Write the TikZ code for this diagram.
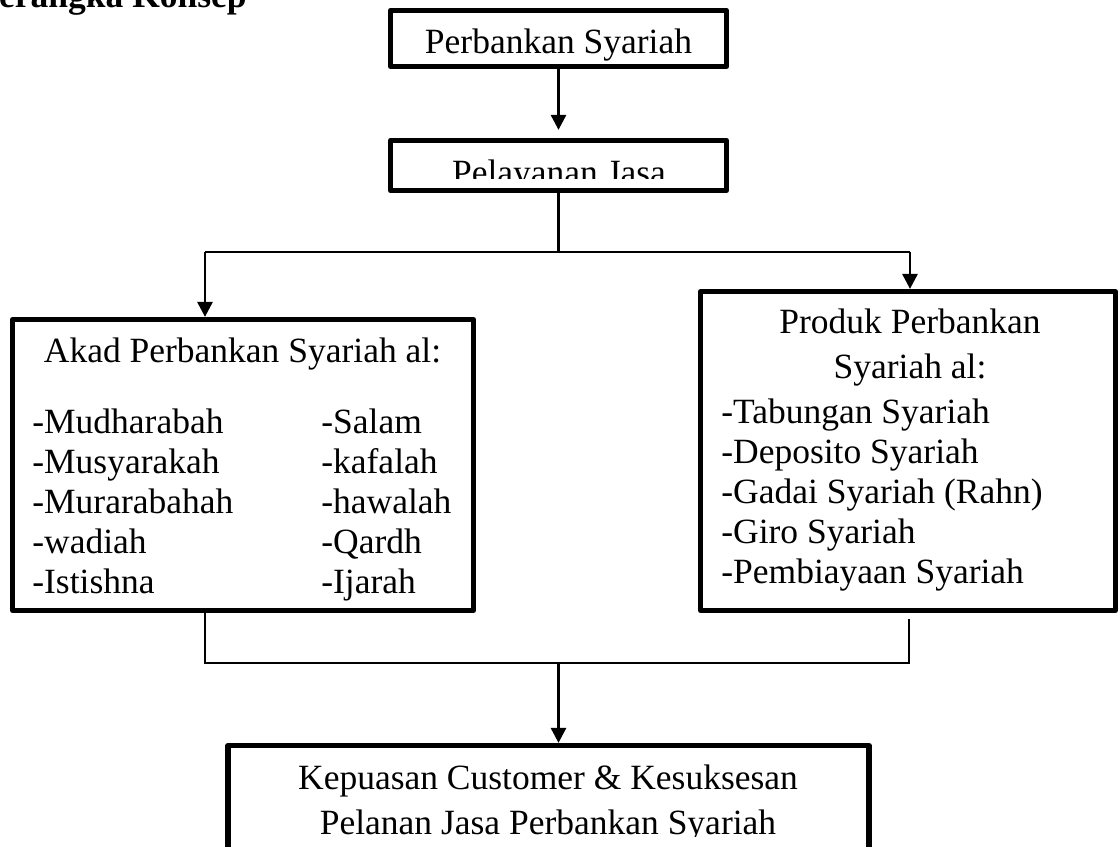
\documentclass[tikz,border=0pt]{standalone}
\usepackage{fontspec}
\setmainfont{Liberation Serif}
\usetikzlibrary{arrows.meta}

\tikzset{
  kotak/.style={draw, line width=3pt, line join=round, inner sep=0pt},
  teks/.style={font=\fontsize{20.2}{24}\selectfont, inner sep=0pt, anchor=base},
  panah/.style={line width=1.6pt, -{Triangle[length=0.3cm,width=0.3cm]}},
  garis/.style={line width=1.1pt}
}

\begin{document}
\begin{tikzpicture}[x=0.02cm,y=-0.02cm]
\useasboundingbox (0,0) rectangle (1119,846);

% judul (terpotong di atas)
\node[teks, font=\bfseries\fontsize{20.2}{24}\selectfont, anchor=base east] (judul) at (247,7) {Kerangka Konsep};

% kotak-kotak
\node[kotak, minimum width=6.72cm, minimum height=1.12cm] (bank) at (558.5,38.5) {};
\node[kotak, minimum width=6.72cm, minimum height=1.0cm] (pel) at (558.5,165.5) {};
\node[kotak, minimum width=9.22cm, minimum height=5.82cm] (akad) at (243,465) {};
\node[kotak, minimum width=8.3cm, minimum height=6.38cm] (produk) at (908,451) {};
\node[kotak, minimum width=12.82cm, minimum height=3.09cm] (hasil) at (548.5,822.75) {};

% teks
\node[teks] (tbank) at (558.5,53) {Perbankan Syariah};
\begin{scope}
  \clip (390,140) rectangle (727,178);
  \node[teks] (tpel) at (559,184) {Pelayanan Jasa};
\end{scope}

\node[teks] (takad) at (242.5,362) {Akad Perbankan Syariah al:};
\foreach \nama [count=\i from 0] in {Mudharabah,Musyarakah,Murarabahah,wadiah,Istishna}
  \node[teks, anchor=base west] (ka\i) at (32,433+40*\i) {-\nama};
\foreach \nama [count=\i from 0] in {Salam,kafalah,hawalah,Qardh,Ijarah}
  \node[teks, anchor=base west] (kb\i) at (321,433+40*\i) {-\nama};

\node[teks] (tproduk1) at (910,333) {Produk Perbankan};
\node[teks] (tproduk2) at (910,378) {Syariah al:};
\foreach \nama [count=\i from 0] in {Tabungan Syariah,Deposito Syariah,Gadai Syariah (Rahn),Giro Syariah,Pembiayaan Syariah}
  \node[teks, anchor=base west] (p\i) at (721,423+40*\i) {-\nama};

\begin{scope}
  \clip (230,748) rectangle (867,836);
  \node[teks] (thasil1) at (548,789) {Kepuasan Customer \& Kesuksesan};
  \node[teks] (thasil2) at (548,834) {Pelanan Jasa Perbankan Syariah};
\end{scope}

% penghubung
\coordinate (cabang) at (558.5,252);
\coordinate (kiri) at (205,252);
\coordinate (kanan) at (910,252);
\coordinate (bawahkiri) at (205,663);
\coordinate (bawahkanan) at (909,663);
\coordinate (gabung) at (558.5,663);

\draw[panah, shorten >=0.16cm] (bank.south) -- (pel.north);
\draw[line width=1.6pt] (pel.south) -- (cabang);
\draw[garis] (kiri) -- (kanan);
\draw[panah] (kiri) -- (kiri |- akad.north);
\draw[panah] (kanan) -- (kanan |- produk.north);

\draw[garis] (akad.south -| bawahkiri) -- (bawahkiri) -- (bawahkanan) -- ([yshift=-0.12cm]produk.south -| bawahkanan);
\draw[panah] (gabung) -- (gabung |- hasil.north);

\end{tikzpicture}
\end{document}
